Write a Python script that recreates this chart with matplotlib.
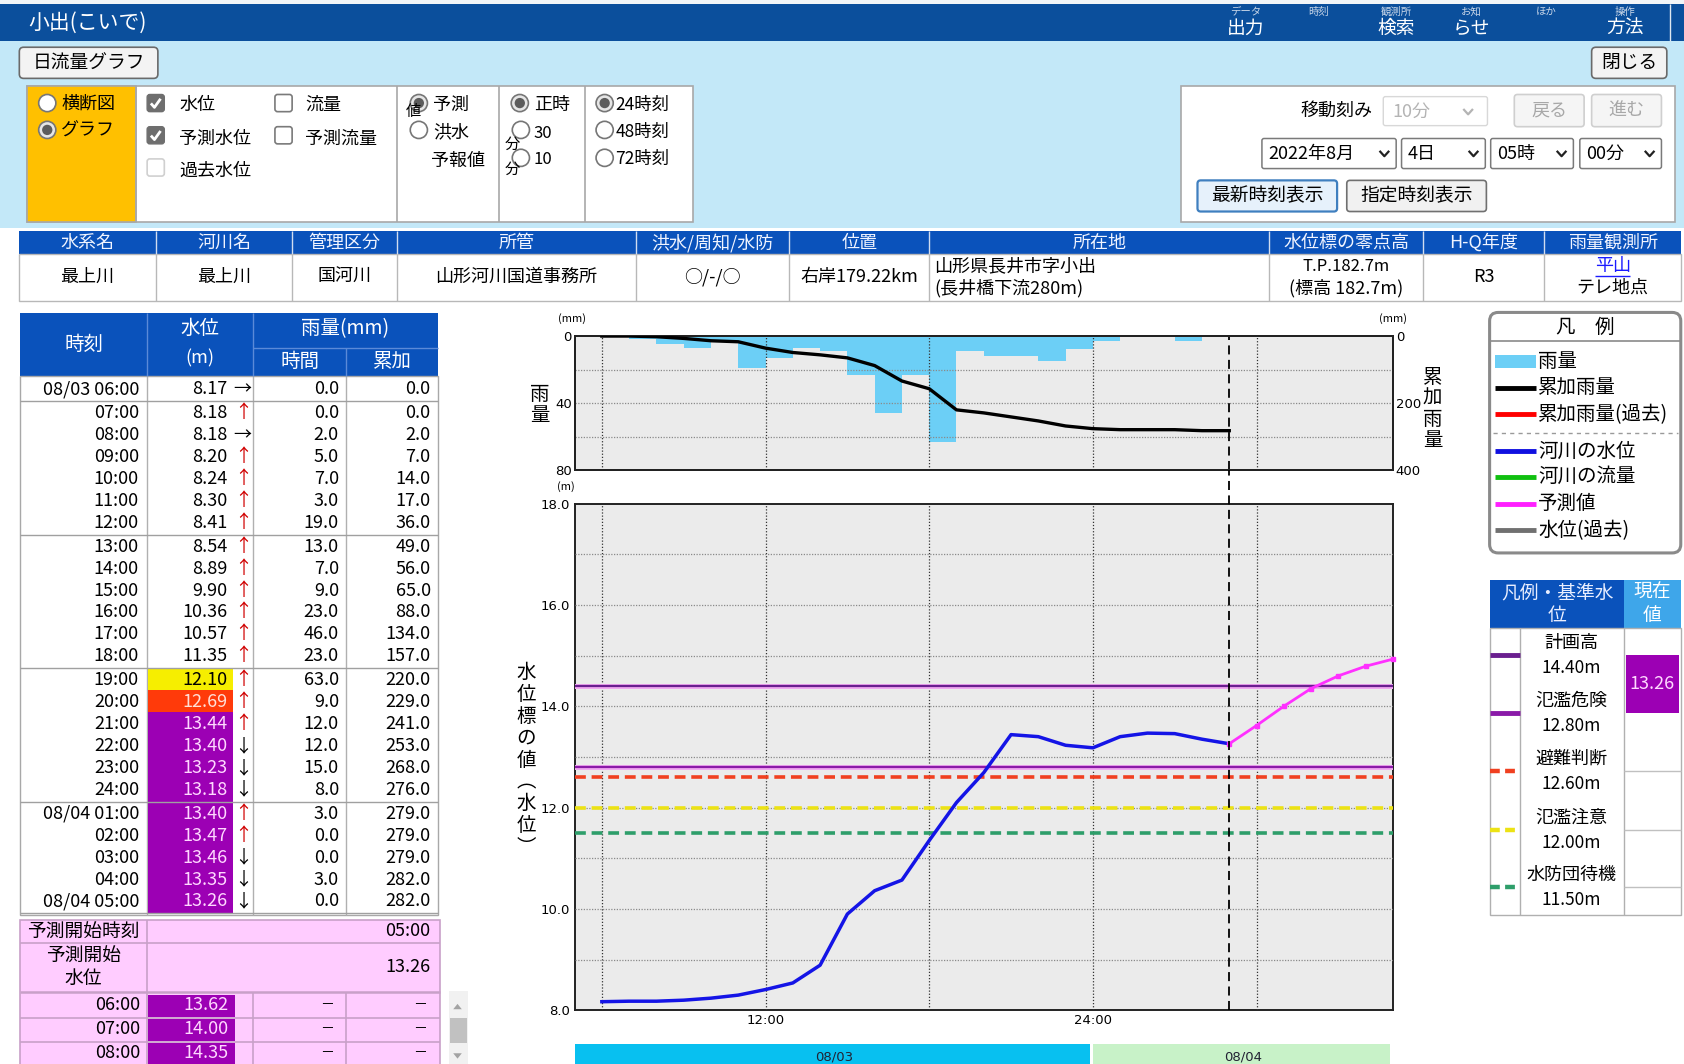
import matplotlib
matplotlib.use('Agg')
import matplotlib.pyplot as plt
import matplotlib.patches as mpatches
import numpy as np

plt.rcParams['font.family'] = ['Noto Sans CJK JP', 'DejaVu Sans']

# ---------------- data ----------------
station_title = '小出(こいで)'
obs_time_labels = ['08/03 06:00', '07:00', '08:00', '09:00', '10:00', '11:00', '12:00',
                   '13:00', '14:00', '15:00', '16:00', '17:00', '18:00',
                   '19:00', '20:00', '21:00', '22:00', '23:00', '24:00',
                   '08/04 01:00', '02:00', '03:00', '04:00', '08/04 05:00']
obs_hours = list(range(6, 30))
obs_level = [8.17, 8.18, 8.18, 8.20, 8.24, 8.30, 8.41, 8.54, 8.89, 9.90, 10.36, 10.57, 11.35,
             12.10, 12.69, 13.44, 13.40, 13.23, 13.18, 13.40, 13.47, 13.46, 13.35, 13.26]
obs_trend = ['→', '↑', '→', '↑', '↑', '↑', '↑', '↑', '↑', '↑', '↑', '↑', '↑',
             '↑', '↑', '↑', '↓', '↓', '↓', '↑', '↑', '↓', '↓', '↓']
rain_hourly = [0, 0, 2, 5, 7, 3, 19, 13, 7, 9, 23, 46, 23, 63, 9, 12, 12, 15, 8, 3, 0, 0, 3, 0]
rain_cumulative = [0, 0, 2, 7, 14, 17, 36, 49, 56, 65, 88, 134, 157, 220, 229, 241, 253, 268,
                   276, 279, 279, 279, 282, 282]
group_sizes = [1, 6, 6, 6, 5]

fc_start_label = '05:00'
fc_start_level = 13.26
fc_hours = [29, 30, 31, 32, 33, 34, 35]
fc_level = [13.26, 13.62, 14.00, 14.35, 14.60, 14.79, 14.93]
fc_table_labels = ['06:00', '07:00', '08:00']
fc_table_level = [13.62, 14.00, 14.35]

ref_names = ['計画高', '氾濫危険', '避難判断', '氾濫注意', '水防団待機']
ref_levels = [14.40, 12.80, 12.60, 12.00, 11.50]
ref_colors = ['#6a1f8f', '#8a1aa8', '#f04020', '#ece214', '#2e9e6a']
ref_dashed = [False, False, True, True, True]
current_level = 13.26
now_hour = 29

date_labels = ['08/03', '08/04']
date_bounds = [5, 24, 35]
date_colors = ['#08c0f0', '#c8f2c8']
x_tick_hours = [12, 24]
x_tick_labels = ['12:00', '24:00']
x_grid_hours = [6, 12, 18, 24, 30]

menu_top = ['データ', '時刻', '観測所', 'お知', 'ほか', '操作']
menu_bottom = ['出力', '', '検索', 'らせ', '', '方法']

info_headers = ['水系名', '河川名', '管理区分', '所管', '洪水/周知/水防', '位置', '所在地',
                '水位標の零点高', 'H-Q年度', '雨量観測所']
info_line1 = ['最上川', '最上川', '国河川', '山形河川国道事務所', '○/-/○', '右岸179.22km',
              '山形県長井市字小出', 'T.P.182.7m', 'R3', '平山']
info_line2 = ['', '', '', '', '', '', '(長井橋下流280m)', '(標高 182.7m)', '', 'テレ地点']

legend_items = ['雨量', '累加雨量', '累加雨量(過去)', '河川の水位', '河川の流量', '予測値', '水位(過去)']
legend_colors = ['#6ccff6', '#000000', '#ff0000', '#1010e0', '#10c010', '#ff20ff', '#707070']

PURPLE = '#9c00b4'
BLUE_HDR = '#0a52bb'

# ---------------- figure ----------------
W, H = 1568.0, 991.0
fig = plt.figure(figsize=(16.84, 10.64), dpi=100)


def rect(x0, y0, x1, y1):
    return [x0 / W, 1 - y1 / H, (x1 - x0) / W, (y1 - y0) / H]


bg = fig.add_axes([0, 0, 1, 1])
bg.set_xlim(0, W)
bg.set_ylim(H, 0)
bg.axis('off')


def box(x0, y0, x1, y1, fc='none', ec='none', lw=1.0, z=1, r=0):
    if r > 0:
        p = mpatches.FancyBboxPatch((x0, y0), x1 - x0, y1 - y0,
                                    boxstyle=f'round,pad=0,rounding_size={r}',
                                    fc=fc, ec=ec, lw=lw, zorder=z)
    else:
        p = mpatches.Rectangle((x0, y0), x1 - x0, y1 - y0, fc=fc, ec=ec, lw=lw, zorder=z)
    bg.add_patch(p)
    return p


def T(x, y, s, size=13, color='k', ha='left', va='center', z=6, **kw):
    bg.text(x, y, s, fontsize=size, color=color, ha=ha, va=va, zorder=z, **kw)


def L(xs, ys, color='k', lw=1.0, z=3, ls='solid'):
    bg.plot(xs, ys, color=color, lw=lw, zorder=z, ls=ls, solid_capstyle='butt')


def radio(x, y, sel):
    bg.add_patch(mpatches.Circle((x, y), 8, fc='#e6e6e6' if sel else 'white',
                                 ec='#767676', lw=1.2, zorder=4))
    if sel:
        bg.add_patch(mpatches.Circle((x, y), 4.8, fc='#5c5c5c', ec='none', zorder=5))


def check(x, y, state):
    s = 8
    if state == 'on':
        box(x - s, y - s, x + s, y + s, fc='#6e6e6e', ec='#6e6e6e', r=2.5, z=4)
        L([x - 4.5, x - 1.2, x + 4.5], [y + 0.3, y + 4, y - 4], color='white', lw=2, z=5)
    elif state == 'off':
        box(x - s, y - s, x + s, y + s, fc='white', ec='#7a7a7a', lw=1.2, r=2.5, z=4)
    else:
        box(x - s, y - s, x + s, y + s, fc='white', ec='#d0d0d0', lw=1.2, r=2.5, z=4)


def chev(x, y, c):
    L([x - 4.5, x, x + 4.5], [y - 2.5, y + 2.5, y - 2.5], color=c, lw=1.6, z=5)


# ---------------- header ----------------
box(0, 0, W, 4, fc='#f2f5f8', z=0.6)
box(0, 4, W, 38, fc='#0b4f9c', z=0.5)
T(26, 21, station_title, size=15, color='white')
menu_x = [1160, 1228, 1300, 1370, 1440, 1513]
for s1, s2, x in zip(menu_top, menu_bottom, menu_x):
    T(x, 11, s1, size=7.5, color='#c8d6e8', ha='center')
    if s2:
        T(x, 26, s2, size=13.5, color='white', ha='center')
L([1555, 1555], [4, 38], color='#dfe8f0', lw=1)

box(0, 38, W, 212, fc='#c3e8f8', z=0.3)

box(18, 44, 147, 73, fc='#f3f3f3', ec='#6a6a6a', lw=1.2, r=4, z=2)
T(82.5, 58.5, '日流量グラフ', size=13.5, ha='center')
box(1482, 44, 1552, 73, fc='#f3f3f3', ec='#6a6a6a', lw=1.2, r=4, z=2)
T(1517, 58.5, '閉じる', size=13.5, ha='center')

# ---------------- left controls ----------------
box(25, 80, 645, 207, fc='white', ec='#a8a8a8', lw=1.2, z=1)
box(25, 80, 127, 207, fc='#ffc000', ec='#a8a8a8', lw=1.2, z=1.5)
for x in [127, 370, 465, 545]:
    L([x, x], [80, 207], color='#a8a8a8', lw=1.2, z=2)

radio(44, 96, False); T(57, 97, '横断図')
radio(44, 121, True); T(57, 122, 'グラフ')
check(145, 96, 'on'); T(167, 98, '水位')
check(264, 96, 'off'); T(284, 98, '流量')
check(145, 126, 'on'); T(167, 129, '予測水位')
check(264, 126, 'off'); T(284, 129, '予測流量')
check(145, 156, 'dis'); T(167, 159, '過去水位')
T(378, 104, '値', size=11)
radio(390, 96, True); T(403, 98, '予測')
radio(390, 121, False); T(403, 123, '洪水')
T(401, 150, '予報値')
radio(484, 96, True); T(497, 98, '正時')
T(470, 134, '分', size=11); radio(485, 121, False); T(497, 124, '30', size=12)
T(470, 158, '分', size=11); radio(485, 147, False); T(497, 149, '10', size=12)
radio(563, 96, True); T(573, 98, '24時刻', size=12.5)
radio(563, 121, False); T(573, 123, '48時刻', size=12.5)
radio(563, 147, False); T(573, 148, '72時刻', size=12.5)

# ---------------- right controls ----------------
box(1100, 80, 1560, 207, fc='white', ec='#a8a8a8', lw=1.2, z=1)
T(1278, 103, '移動刻み', ha='right')
box(1288, 90, 1385, 117, fc='white', ec='#d8d8d8', lw=1.0, r=2, z=2)
T(1296, 104, '10分', color='#b4b4b4'); chev(1367, 104, '#b4b4b4')
box(1410, 88, 1475, 118, fc='#f5f5f5', ec='#cfcfcf', lw=1.2, r=3, z=2)
T(1442.5, 103, '戻る', color='#a8a8a8', ha='center')
box(1482, 88, 1547, 118, fc='#f5f5f5', ec='#cfcfcf', lw=1.2, r=3, z=2)
T(1514.5, 103, '進む', color='#a8a8a8', ha='center')
for x0, x1, s in [(1175, 1300, '2022年8月'), (1305, 1383, '4日'), (1388, 1465, '05時'), (1471, 1547, '00分')]:
    box(x0, 129, x1, 157, fc='white', ec='#7a7a7a', lw=1.1, r=2, z=2)
    T(x0 + 6, 143, s, size=13)
    chev(x1 - 11, 143, '#222222')
box(1115, 168, 1245, 197, fc='#e6f1fb', ec='#3f7fbf', lw=1.6, r=3, z=2)
T(1180, 182.5, '最新時刻表示', size=13.5, ha='center')
box(1254, 168, 1384, 197, fc='#f1f1f1', ec='#707070', lw=1.2, r=3, z=2)
T(1319, 182.5, '指定時刻表示', size=13.5, ha='center')

# ---------------- info table ----------------
cols = [18, 145, 272, 370, 592, 735, 865, 1182, 1325, 1438, 1565]
box(18, 215, 1565, 237, fc=BLUE_HDR, z=1)
box(18, 237, 1565, 280, fc='white', ec='#b8b8b8', lw=1, z=1)
for i, h in enumerate(info_headers):
    cx = (cols[i] + cols[i + 1]) / 2
    T(cx, 226, h, size=13, color='#f0f4ff', ha='center')
    if i > 0:
        L([cols[i], cols[i]], [215, 237], color='#d0dcf0', lw=1)
        L([cols[i], cols[i]], [237, 280], color='#b8b8b8', lw=1)
    a, b = info_line1[i], info_line2[i]
    if i == 6:
        T(cols[i] + 5, 248, a, size=13)
        T(cols[i] + 5, 268, b, size=13)
    elif b:
        T(cx, 248, a, size=12 if i == 7 else 13, ha='center',
          color='#1a1aff' if i == 9 else 'k')
        T(cx, 268, b, size=13, ha='center')
        if i == 9:
            L([cx - 16, cx + 16], [257, 257], color='#1a1aff', lw=1)
    else:
        T(cx, 258, a, size=13, ha='center')

# ---------------- observation table ----------------
tx = [18.6, 136.9, 235.6, 322.2, 407.8]
box(tx[0], 291.4, tx[4], 350, fc=BLUE_HDR, z=1)
for x in [tx[1], tx[2]]:
    L([x, x], [291.4, 350], color='#5a8ad8', lw=1)
L([tx[3], tx[3]], [324, 350], color='#5a8ad8', lw=1)
L([tx[2], tx[4]], [324, 324], color='#5a8ad8', lw=1)
T((tx[0] + tx[1]) / 2, 320.7, '時刻', size=14, color='white', ha='center')
T((tx[1] + tx[2]) / 2, 306, '水位', size=14, color='white', ha='center')
T((tx[1] + tx[2]) / 2, 334, '(m)', size=13, color='white', ha='center')
T((tx[2] + tx[4]) / 2, 306, '雨量(mm)', size=14, color='white', ha='center')
T((tx[2] + tx[3]) / 2, 337, '時間', size=14, color='white', ha='center')
T((tx[3] + tx[4]) / 2, 337, '累加', size=14, color='white', ha='center')

box(tx[0], 350, tx[4], 852, fc='white', ec='#a8a8a8', lw=1, z=1)
for x in tx[1:4]:
    L([x, x], [350, 852], color='#b0b0b0', lw=1, z=2)


def level_color(v):
    if v >= ref_levels[1]:
        return PURPLE, '#ffd8ff'
    if v >= ref_levels[2]:
        return '#ff3a0a', '#ffe0d8'
    if v >= ref_levels[3]:
        return '#f6ee00', 'k'
    if v >= ref_levels[4]:
        return '#3cb371', 'white'
    return None, 'k'


row_h = 20.4
y = 352.2
k = 0
for g in group_sizes:
    for _ in range(g):
        cy = y + row_h / 2
        fcol, tcol = level_color(obs_level[k])
        if fcol:
            box(137.4, y - 1, 217, y + row_h + 1, fc=fcol, z=2)
        T(129.4, cy, obs_time_labels[k], size=13, ha='right')
        T(212, cy, f'{obs_level[k]:.2f}', size=13, ha='right', color=tcol)
        ac = '#d00000' if obs_trend[k] == '↑' else 'k'
        T(226, cy, obs_trend[k], size=13, ha='center', color=ac)
        T(315.6, cy, f'{rain_hourly[k]:.1f}', size=13, ha='right')
        T(401, cy, f'{rain_cumulative[k]:.1f}', size=13, ha='right')
        y += row_h
        k += 1
    L([tx[0], tx[4]], [y + 1, y + 1], color='#a0a0a0', lw=1, z=3)
    y += 2.0

# ---------------- forecast table ----------------
pe = '#c8a0c8'
box(18.6, 857, 409.7, 995, fc='#ffccff', ec=pe, lw=1.2, z=1)
L([136.9, 136.9], [857, 995], color=pe, lw=1.2)
L([18.6, 409.7], [878, 878], color=pe, lw=1.2)
L([18.6, 409.7], [924, 924], color=pe, lw=1.8)
T(77.7, 867.5, '予測開始時刻', size=13.5, ha='center')
T(401, 867.5, fc_start_label, size=13, ha='right')
T(77.7, 890, '予測開始', size=13.5, ha='center')
T(77.7, 911, '水位', size=13.5, ha='center')
T(401, 901, f'{fc_start_level:.2f}', size=13, ha='right')
for x in [235.6, 322.2]:
    L([x, x], [924, 995], color=pe, lw=1.2)
fy = 925.5
for i, lab in enumerate(fc_table_labels):
    cy = fy + 11
    box(138, fy + 1, 218.8, fy + 21.5, fc=level_color(fc_table_level[i])[0], z=2)
    T(131, cy, lab, size=13, ha='right')
    T(213, cy, f'{fc_table_level[i]:.2f}', size=13, ha='right', color='#ffd8ff')
    T(311, cy, '－', size=10, ha='right')
    T(398, cy, '－', size=10, ha='right')
    fy += 22.3
    L([18.6, 409.7], [fy, fy], color=pe, lw=1.2)

box(418, 923, 436, 995, fc='#f1f1f1', z=1)
bg.add_patch(mpatches.Polygon([(422, 940), (430, 940), (426, 935)], fc='#a3a3a3', zorder=3))
box(419, 948, 435, 971, fc='#c1c1c1', z=2)
bg.add_patch(mpatches.Polygon([(422, 981), (430, 981), (426, 986)], fc='#a3a3a3', zorder=3))

# ---------------- charts ----------------
grid_kw = dict(color='#333333', lw=0.9, ls=(0, (1, 1.5)), zorder=3)
hgrid_kw = dict(color='#8a8a8a', lw=0.9, ls=(0, (1, 1.2)), zorder=3)
tick_font = dict(family='DejaVu Sans', size=9.5)

ax_r = fig.add_axes(rect(535, 313, 1297, 438))
ax_r.set_facecolor('#ebebeb')
ax_r.bar(np.array(obs_hours) - 0.5, rain_hourly, width=1.0, color='#6ccff6', zorder=2)
ax_r.set_xlim(date_bounds[0], date_bounds[-1])
ax_r.set_ylim(80, 0)
for h in x_grid_hours:
    ax_r.axvline(h, **grid_kw)
for v in [20, 40, 60]:
    ax_r.axhline(v, **hgrid_kw)
ax_r.axvline(now_hour, color='k', lw=1.3, ls=(0, (5, 3)), zorder=4)
ax_r.set_xticks([])
ax_r.set_yticks([0, 40, 80])
ax_r.set_yticklabels(['0', '40', '80'], **tick_font)
ax_r.tick_params(axis='y', length=0, pad=2)
ax_r2 = ax_r.twinx()
ax_r2.plot(obs_hours, rain_cumulative, color='k', lw=2.4, zorder=5)
ax_r2.set_ylim(400, 0)
ax_r2.set_yticks([0, 200, 400])
ax_r2.set_yticklabels(['0', '200', '400'], **tick_font)
ax_r2.tick_params(axis='y', length=0, pad=2)
for a in (ax_r, ax_r2):
    for sp in a.spines.values():
        sp.set_color('#222222')
        sp.set_linewidth(1.4)

ax_w = fig.add_axes(rect(535, 469, 1297, 941))
ax_w.set_facecolor('#ebebeb')
ax_w.set_xlim(date_bounds[0], date_bounds[-1])
ax_w.set_ylim(8, 18)
for h in x_grid_hours:
    ax_w.axvline(h, **grid_kw)
for v in range(9, 18):
    ax_w.axhline(v, **hgrid_kw)
for lv, c, d in zip(ref_levels, ref_colors, ref_dashed):
    if d:
        ax_w.axhline(lv, color=c, lw=2.6, ls=(0, (3, 1.6)), zorder=4)
    else:
        ax_w.axhline(lv, color='#f0a8f0', lw=3.6, zorder=4)
        ax_w.axhline(lv, color=c, lw=1.6, zorder=4)
ax_w.plot(obs_hours, obs_level, color='#1414e6', lw=2.5, zorder=6)
ax_w.plot(fc_hours, fc_level, color='#ff30ff', lw=2.0, marker='s', ms=3.5, zorder=6, clip_on=False)
ax_w.axvline(now_hour, ymin=0, ymax=1 + 31 / 472, color='k', lw=1.3, ls=(0, (5, 3)),
             zorder=7, clip_on=False)
ax_w.set_yticks([8, 10, 12, 14, 16, 18])
ax_w.set_yticklabels([f'{v:.1f}' for v in [8, 10, 12, 14, 16, 18]], **tick_font)
ax_w.set_xticks(x_tick_hours)
ax_w.set_xticklabels(x_tick_labels, **tick_font)
ax_w.tick_params(length=0, pad=3)
for sp in ax_w.spines.values():
    sp.set_color('#222222')
    sp.set_linewidth(1.4)

ax_d = fig.add_axes(rect(535, 972, 1297, 1000))
ax_d.set_xlim(date_bounds[0], date_bounds[-1])
ax_d.set_ylim(0, 1)
for i, lab in enumerate(date_labels):
    ax_d.bar(date_bounds[i], 1, width=date_bounds[i + 1] - date_bounds[i] - 0.12, align='edge',
             color=date_colors[i])
    ax_d.text((date_bounds[i] + date_bounds[i + 1]) / 2, 0.55, lab, ha='center', va='center',
              fontsize=9.5, family='DejaVu Sans', color='#223')
ax_d.axis('off')

T(533, 297, '(mm)', size=8, ha='center')
T(1297, 297, '(mm)', size=8, ha='center')
T(527, 453, '(m)', size=8, ha='center')
T(503, 377, '雨\n量', size=14, ha='center', linespacing=1.0)
T(1334, 381, '累\n加\n雨\n量', size=14, ha='center', linespacing=1.0)
T(490, 708, '\n'.join('水位標の値︵水位︶'), size=14, ha='center', linespacing=1.05)

# ---------------- legend box ----------------
box(1387, 291, 1565, 515, fc='white', ec='#8a8a8a', lw=2.2, r=8, z=1)
T(1476, 305, '凡　例', size=14, ha='center')
L([1388, 1564], [318, 318], color='#8a8a8a', lw=1.2)
ly = [337, 361, 386, 420, 444, 469, 494]
for i, (name, c) in enumerate(zip(legend_items, legend_colors)):
    if i == 0:
        box(1392, 331, 1430, 343, fc=c, z=3)
    else:
        L([1392, 1430], [ly[i], ly[i]], color=c, lw=3.5)
    T(1432, ly[i], name, size=14)
L([1390, 1562], [403, 403], color='#9a9a9a', lw=1, ls=(0, (3, 3)))

# ---------------- reference level table ----------------
box(1387, 540, 1512, 585, fc=BLUE_HDR, z=1)
box(1512, 540, 1565, 585, fc='#3ea6ea', z=1)
T(1450, 552, '凡例・基準水', size=13.5, color='#e8eeff', ha='center')
T(1450, 573, '位', size=13.5, color='#e8eeff', ha='center')
T(1538.5, 552, '現在', size=13.5, color='white', ha='center')
T(1538.5, 573, '値', size=13.5, color='white', ha='center')
box(1387, 585, 1565, 852, fc='white', ec='#b0b0b0', lw=1, z=1)
for x in [1415, 1512]:
    L([x, x], [585, 852], color='#b0b0b0', lw=1)
ry = [610, 664, 718, 773, 826]
for i, (nm, lv) in enumerate(zip(ref_names, ref_levels)):
    if ref_dashed[i]:
        L([1387, 1415], [ry[i], ry[i]], color=ref_colors[i], lw=3.2, ls=(0, (2.2, 1.2)))
        L([1512, 1565], [ry[i], ry[i]], color='#c0c0c0', lw=1)
    else:
        L([1387, 1415], [ry[i], ry[i]], color=ref_colors[i], lw=3.5)
    T(1463, ry[i] - 11, nm, size=13, ha='center')
    T(1463, ry[i] + 12, f'{lv:.2f}m', size=12.5, ha='center')
for i in range(len(ref_levels) - 1):
    if ref_levels[i] > current_level >= ref_levels[i + 1]:
        box(1514, ry[i], 1563, ry[i + 1], fc=level_color(current_level)[0], z=2)
        T(1538.5, (ry[i] + ry[i + 1]) / 2, f'{current_level:.2f}', size=13, color='#ffd8ff', ha='center')

fig.savefig('out.png', dpi=100)
